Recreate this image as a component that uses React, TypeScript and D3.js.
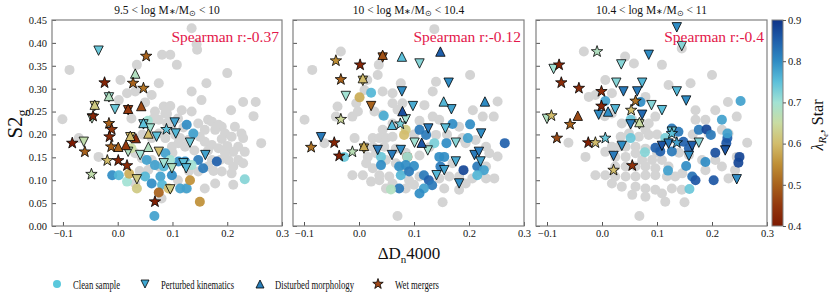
import React, { useEffect, useRef } from "react";
import * as d3 from "d3";

type P = [number, number];
type L = [number, number, number]; // x, y, lambda_Re

const titles = [
  ["9.5 < log M", "∗", "/M", "⊙", " < 10"],
  ["10 < log M", "∗", "/M", "⊙", " < 10.4"],
  ["10.4 < log M", "∗", "/M", "⊙", " < 11"],
];
const spearman = ["Spearman r:-0.37", "Spearman r:-0.12", "Spearman r:-0.4"];
const xTicks = [-0.1, 0, 0.1, 0.2, 0.3];
const yTicks = [0, 0.05, 0.1, 0.15, 0.2, 0.25, 0.3, 0.35, 0.4, 0.45];
const cbTicks = [0.4, 0.5, 0.6, 0.7, 0.8, 0.9];
const cmapStops = [0.4, 0.45, 0.5, 0.55, 0.6, 0.65, 0.7, 0.75, 0.8, 0.85, 0.9];
const cmapColors = [
  "#7e1a02", "#93380e", "#a8621c", "#bf8f36", "#d2bd6c", "#c9dca2",
  "#a2e2d4", "#5cc0da", "#2f8cc4", "#1f5fab", "#0f3488",
];
const legendLabels = ["Clean sample", "Perturbed kinematics", "Disturbed morphology", "Wet mergers"];

// panel 1 : 9.5 < logM < 10
const grayP1: P[] = [
  [0.135, 0.432], [0.145, 0.385], [0.144, 0.397], [0.081, 0.374], [0.096, 0.374], [0.108, 0.352],
  [-0.088, 0.341], [0.035, 0.352], [0.2, 0.334], [0.005, 0.319], [0.075, 0.312], [0.162, 0.312],
  [0.017, 0.29], [0.032, 0.294], [0.135, 0.294], [0.062, 0.286], [0.153, 0.275], [0.229, 0.271],
  [0.252, 0.271], [0.002, 0.275], [0.084, 0.261], [0.096, 0.262], [0.068, 0.25], [0.087, 0.246],
  [0.117, 0.253], [0.207, 0.253], [-0.101, 0.233], [0.065, 0.235], [0.075, 0.232], [0.248, 0.24],
  [0.165, 0.232], [0.172, 0.228], [0.147, 0.224], [0.184, 0.221], [0.19, 0.217], [0.214, 0.217],
  [0.196, 0.202], [0.208, 0.195], [0.226, 0.202], [0.229, 0.192], [-0.071, 0.192], [0.262, 0.181],
  [0.111, 0.181], [0.099, 0.173], [0.123, 0.173], [0.159, 0.184], [0.172, 0.177], [0.184, 0.17],
  [0.22, 0.173], [0.211, 0.162], [0.232, 0.162], [0.196, 0.159], [0.187, 0.144], [0.202, 0.144],
  [0.22, 0.144], [0.229, 0.137], [0.211, 0.13], [-0.035, 0.151], [0.032, 0.159], [0.044, 0.148],
  [0.172, 0.144], [0.165, 0.13], [0.19, 0.119], [0.208, 0.115], [0.178, 0.093], [0.211, 0.09],
  [0.159, 0.082], [0.123, 0.082], [0.062, 0.144], [0.075, 0.13], [0.056, 0.123], [0.032, 0.093],
  [0.147, 0.119], [0.099, 0.21], [0.105, 0.199], [0.087, 0.192], [0.075, 0.202], [0.062, 0.192],
  [0.114, 0.192], [0.129, 0.188], [0.159, 0.21], [0.178, 0.21], [0.09, 0.225], [0.11, 0.235],
  [0.14, 0.2], [0.1, 0.16], [0.14, 0.165], [0.05, 0.27], [0.025, 0.235], [0.08, 0.06],
  [0.12, 0.215], [0.135, 0.25], [0.15, 0.195], [0.165, 0.165], [0.19, 0.19], [0.2, 0.175],
  [0.175, 0.12], [0.13, 0.12], [0.11, 0.1], [0.09, 0.245], [0.045, 0.2], [0.04, 0.12],
];
const cleanP1: L[] = [
  [0.126, 0.221, 0.8], [0.138, 0.202, 0.78], [0.055, 0.23, 0.7], [0.087, 0.159, 0.78],
  [0.053, 0.144, 0.78], [0.068, 0.133, 0.78], [0.084, 0.13, 0.76], [0.111, 0.141, 0.8],
  [0.123, 0.141, 0.8], [0.147, 0.144, 0.82], [0.181, 0.141, 0.85], [0.156, 0.126, 0.82],
  [0.096, 0.144, 0.7], [0.135, 0.133, 0.7], [-0.01, 0.111, 0.8], [0.002, 0.111, 0.76],
  [0.017, 0.097, 0.7], [0.021, 0.114, 0.58], [0.035, 0.082, 0.62], [0.05, 0.108, 0.76],
  [0.062, 0.093, 0.8], [0.078, 0.108, 0.78], [0.081, 0.09, 0.76], [0.093, 0.082, 0.6],
  [0.099, 0.111, 0.8], [0.114, 0.082, 0.78], [0.126, 0.082, 0.78], [0.132, 0.1, 0.55],
  [0.075, 0.073, 0.5], [0.15, 0.053, 0.55], [0.067, 0.022, 0.78], [0.232, 0.102, 0.72],
  [0.025, 0.17, 0.65],
];
const kinP1: L[] = [
  [-0.035, 0.383, 0.74], [-0.016, 0.281, 0.7], [-0.042, 0.262, 0.62], [-0.005, 0.255, 0.74],
  [0.019, 0.253, 0.45], [-0.047, 0.235, 0.68], [0.047, 0.222, 0.74], [0.059, 0.213, 0.7],
  [0.071, 0.195, 0.75], [0.104, 0.226, 0.78], [0.106, 0.202, 0.76], [0.132, 0.182, 0.74],
  [-0.062, 0.184, 0.66], [0.023, 0.194, 0.6], [0.019, 0.162, 0.68], [0.041, 0.155, 0.7],
  [0.075, 0.162, 0.6], [0.084, 0.137, 0.7], [0.099, 0.126, 0.68], [0.12, 0.137, 0.75],
  [0.125, 0.126, 0.76], [0.16, 0.155, 0.78], [0.035, 0.102, 0.62], [0.096, 0.08, 0.62],
];
const morphP1: L[] = [
  [0.032, 0.333, 0.68], [0.043, 0.262, 0.47], [0.019, 0.256, 0.45], [-0.016, 0.284, 0.68],
  [-0.042, 0.265, 0.62], [0.033, 0.192, 0.43], [0.015, 0.177, 0.45], [0.001, 0.173, 0.5],
  [0.056, 0.202, 0.6], [0.056, 0.173, 0.68], [0.047, 0.225, 0.75], [0.023, 0.197, 0.6],
];
const wetP1: L[] = [
  [0.052, 0.371, 0.5], [-0.024, 0.313, 0.42], [0.028, 0.312, 0.5], [0.047, 0.301, 0.52],
  [-0.045, 0.24, 0.42], [-0.016, 0.224, 0.5], [-0.011, 0.211, 0.45], [-0.015, 0.195, 0.43],
  [-0.012, 0.173, 0.5], [-0.083, 0.181, 0.4], [-0.06, 0.162, 0.5], [-0.019, 0.143, 0.6],
  [0.001, 0.143, 0.42], [0.017, 0.132, 0.43], [-0.048, 0.113, 0.66], [0.068, 0.053, 0.41],
  [0.089, 0.211, 0.75],
];

// panel 2 : 10 < logM < 10.4
const grayP2: P[] = [
  [0.137, 0.43], [-0.085, 0.341], [-0.033, 0.381], [0.036, 0.352], [0.034, 0.33], [0.015, 0.319],
  [0.01, 0.297], [0.076, 0.312], [0.14, 0.315], [0.134, 0.294], [0.202, 0.33], [0.043, 0.294],
  [0.061, 0.29], [-0.039, 0.261], [-0.005, 0.268], [-0.002, 0.25], [0.079, 0.268], [0.119, 0.264],
  [0.207, 0.253], [0.225, 0.239], [0.252, 0.272], [0.245, 0.239], [-0.099, 0.232], [-0.042, 0.239],
  [-0.012, 0.239], [0.028, 0.25], [0.043, 0.243], [0.061, 0.268], [0.07, 0.254], [0.043, 0.21],
  [0.061, 0.224], [-0.063, 0.181], [-0.008, 0.192], [0.025, 0.192], [0.037, 0.192], [0.049, 0.192],
  [0.061, 0.195], [0.013, 0.173], [0.025, 0.173], [0.046, 0.173], [0.067, 0.169], [0.134, 0.239],
  [0.146, 0.232], [0.182, 0.217], [0.188, 0.192], [0.212, 0.188], [0.231, 0.173], [0.237, 0.159],
  [0.252, 0.152], [0.194, 0.181], [0.14, 0.199], [0.128, 0.172], [0.11, 0.154], [0.016, 0.151],
  [0.031, 0.159], [0.049, 0.144], [0.067, 0.137], [0.079, 0.122], [0.013, 0.137], [0.025, 0.126],
  [0.037, 0.111], [0.055, 0.108], [0.061, 0.093], [0.091, 0.1], [0.11, 0.108], [-0.012, 0.111],
  [0.007, 0.111], [0.022, 0.097], [0.037, 0.1], [0.049, 0.082], [0.085, 0.082], [0.17, 0.137],
  [0.164, 0.108], [0.182, 0.108], [0.206, 0.104], [0.231, 0.104], [0.246, 0.104], [0.146, 0.104],
  [0.155, 0.082], [0.182, 0.079], [0.194, 0.093], [0.152, 0.052], [0.07, 0.022], [0.231, 0.13],
  [0.219, 0.119], [0.1, 0.2], [0.16, 0.2], [0.11, 0.23], [0.085, 0.16], [0.1, 0.09],
];
const cleanP2: L[] = [
  [0.022, 0.291, 0.76], [0.001, 0.281, 0.58], [0.045, 0.241, 0.77], [0.085, 0.21, 0.62],
  [0.082, 0.199, 0.6], [0.11, 0.21, 0.82], [0.122, 0.199, 0.82], [0.17, 0.223, 0.8],
  [0.202, 0.222, 0.8], [0.198, 0.192, 0.78], [0.265, 0.181, 0.85], [0.137, 0.181, 0.73],
  [0.159, 0.181, 0.8], [0.088, 0.151, 0.45], [0.088, 0.151, 0.7], [0.04, 0.151, 0.74],
  [-0.027, 0.151, 0.74], [0.04, 0.133, 0.8], [0.073, 0.13, 0.8], [0.085, 0.133, 0.8],
  [0.1, 0.131, 0.8], [0.146, 0.151, 0.8], [0.155, 0.151, 0.8], [0.148, 0.13, 0.82],
  [0.19, 0.122, 0.88], [0.215, 0.13, 0.82], [0.227, 0.122, 0.78], [0.215, 0.111, 0.76],
  [0.076, 0.111, 0.76], [0.091, 0.119, 0.82], [0.118, 0.111, 0.82], [0.127, 0.1, 0.85],
  [0.133, 0.089, 0.82], [0.118, 0.082, 0.78], [0.11, 0.071, 0.8], [0.073, 0.082, 0.82],
  [0.058, 0.08, 0.68],
];
const kinP2: L[] = [
  [0.11, 0.355, 0.72], [0.163, 0.313, 0.8], [-0.024, 0.284, 0.7], [0.022, 0.262, 0.5],
  [0.078, 0.294, 0.8], [0.098, 0.262, 0.77], [0.168, 0.255, 0.78], [0.085, 0.233, 0.7],
  [0.126, 0.213, 0.82], [0.157, 0.213, 0.75], [0.222, 0.202, 0.8], [-0.069, 0.194, 0.82],
  [0.101, 0.182, 0.7], [0.176, 0.182, 0.72], [0.034, 0.166, 0.82], [0.06, 0.155, 0.82],
  [0.076, 0.166, 0.8], [0.125, 0.165, 0.7], [0.176, 0.141, 0.77], [0.21, 0.155, 0.82],
  [0.218, 0.162, 0.82], [0.221, 0.141, 0.78], [0.155, 0.122, 0.78], [0.141, 0.111, 0.76],
  [0.182, 0.093, 0.8], [0.009, 0.169, 0.58], [0.043, 0.368, 0.48], [0.007, 0.317, 0.6],
];
const morphP2: L[] = [
  [0.043, 0.374, 0.48], [0.078, 0.37, 0.75], [0.148, 0.381, 0.85], [0.007, 0.323, 0.6],
  [0.154, 0.272, 0.76], [0.229, 0.272, 0.8], [0.079, 0.251, 0.87], [0.06, 0.221, 0.76],
  [0.114, 0.182, 0.86], [0.009, 0.175, 0.58],
];
const wetP2: L[] = [
  [-0.042, 0.361, 0.55], [0.002, 0.352, 0.42], [-0.033, 0.32, 0.5], [-0.033, 0.233, 0.64],
  [0.075, 0.223, 0.73], [-0.087, 0.172, 0.52], [-0.045, 0.182, 0.42], [-0.036, 0.153, 0.41],
  [-0.012, 0.162, 0.67],
];

// panel 3 : 10.4 < logM < 11
const grayP3: P[] = [
  [-0.033, 0.381], [0.145, 0.388], [0.042, 0.37], [0.058, 0.355], [0.109, 0.352], [0.2, 0.33],
  [0.006, 0.319], [0.018, 0.29], [0.121, 0.308], [0.161, 0.312], [-0.024, 0.282], [-0.012, 0.286],
  [0.079, 0.282], [0.229, 0.271], [0.17, 0.253], [0.206, 0.253], [0.245, 0.239], [-0.061, 0.182],
  [-0.03, 0.151], [0.018, 0.246], [0.036, 0.224], [0.055, 0.232], [0.097, 0.239], [0.085, 0.224],
  [0.079, 0.21], [0.034, 0.195], [0.049, 0.202], [0.067, 0.195], [0.085, 0.199], [0.018, 0.173],
  [0.031, 0.173], [0.043, 0.173], [0.061, 0.173], [0.079, 0.169], [0.006, 0.162], [0.024, 0.151],
  [0.043, 0.151], [0.061, 0.159], [0.073, 0.144], [0.091, 0.144], [0.109, 0.144], [0.024, 0.13],
  [0.043, 0.13], [0.061, 0.13], [0.079, 0.13], [0.097, 0.126], [0.121, 0.13], [-0.012, 0.111],
  [0.006, 0.111], [0.024, 0.108], [0.043, 0.108], [0.061, 0.108], [0.079, 0.111], [0.097, 0.111],
  [0.118, 0.108], [0.133, 0.108], [0.018, 0.093], [0.036, 0.086], [0.061, 0.086], [0.079, 0.082],
  [0.097, 0.079], [0.109, 0.071], [0.127, 0.082], [0.145, 0.079], [0.055, 0.068], [0.079, 0.064],
  [0.115, 0.053], [0.15, 0.052], [0.068, 0.022], [0.17, 0.232], [0.188, 0.232], [0.194, 0.202],
  [0.218, 0.21], [0.23, 0.202], [0.264, 0.182], [0.245, 0.151], [0.158, 0.155], [0.182, 0.144],
  [0.206, 0.144], [0.218, 0.13], [0.23, 0.104], [0.242, 0.122], [0.188, 0.122], [0.146, 0.115],
  [0.1, 0.2], [0.12, 0.185], [0.14, 0.16], [0.1, 0.16], [0.005, 0.24], [0.165, 0.2],
];
const cleanP3: L[] = [
  [0.006, 0.273, 0.78], [0.252, 0.273, 0.78], [0.07, 0.271, 0.8], [0.218, 0.232, 0.78],
  [0.052, 0.232, 0.74], [0.127, 0.213, 0.82], [0.139, 0.206, 0.82], [0.176, 0.21, 0.82],
  [0.19, 0.211, 0.88], [0.198, 0.199, 0.82], [0.228, 0.192, 0.85], [0.228, 0.202, 0.78],
  [0.226, 0.181, 0.86], [0.052, 0.192, 0.74], [0.115, 0.192, 0.73], [0.097, 0.171, 0.85],
  [0.106, 0.163, 0.85], [0.127, 0.163, 0.82], [0.148, 0.184, 0.85], [0.158, 0.17, 0.85],
  [0.206, 0.16, 0.87], [0.25, 0.151, 0.88], [0.248, 0.138, 0.88], [0.078, 0.161, 0.72],
  [0.153, 0.131, 0.8], [0.188, 0.14, 0.8], [0.12, 0.121, 0.78], [0.164, 0.108, 0.83],
  [0.17, 0.1, 0.86], [0.203, 0.1, 0.86], [0.159, 0.081, 0.74],
];
const kinP3: L[] = [
  [0.136, 0.434, 0.8], [0.145, 0.393, 0.72], [0.085, 0.374, 0.8], [0.035, 0.353, 0.72],
  [-0.088, 0.343, 0.7], [0.026, 0.313, 0.72], [0.073, 0.313, 0.76], [0.039, 0.294, 0.82],
  [0.064, 0.294, 0.82], [0.136, 0.294, 0.76], [0.153, 0.274, 0.8], [0.09, 0.264, 0.72],
  [0.109, 0.253, 0.75], [0.024, 0.255, 0.76], [0.073, 0.243, 0.84], [-0.006, 0.243, 0.8],
  [-0.1, 0.234, 0.68], [0.052, 0.222, 0.82], [0.127, 0.206, 0.74], [0.109, 0.175, 0.86],
  [0.121, 0.18, 0.82], [0.164, 0.175, 0.85], [0.176, 0.182, 0.72], [0.158, 0.153, 0.8],
  [0.036, 0.175, 0.8], [0.021, 0.153, 0.82], [0.224, 0.165, 0.86], [0.245, 0.102, 0.8],
  [0.068, 0.222, 0.65],
];
const morphP3: L[] = [
  [0.011, 0.25, 0.8], [-0.044, 0.241, 0.47], [0.068, 0.227, 0.65],
];
const wetP3: L[] = [
  [-0.009, 0.381, 0.68], [-0.078, 0.352, 0.42], [-0.074, 0.313, 0.43], [-0.042, 0.301, 0.43],
  [-0.001, 0.294, 0.43], [-0.001, 0.262, 0.42], [0.061, 0.273, 0.52], [0.053, 0.253, 0.6],
  [-0.092, 0.241, 0.6], [-0.058, 0.222, 0.5], [-0.082, 0.192, 0.47], [-0.025, 0.182, 0.41],
  [-0.012, 0.182, 0.6], [0.006, 0.192, 0.74], [0.021, 0.122, 0.6], [0.055, 0.132, 0.44],
  [0.127, 0.202, 0.75], [0.136, 0.182, 0.78],
];

const panelData = [
  { gray: grayP1, clean: cleanP1, kin: kinP1, morph: morphP1, wet: wetP1 },
  { gray: grayP2, clean: cleanP2, kin: kinP2, morph: morphP2, wet: wetP2 },
  { gray: grayP3, clean: cleanP3, kin: kinP3, morph: morphP3, wet: wetP3 },
];

const W = 831;
const H = 303;
const FONT = "Liberation Serif, Times New Roman, Times, serif";

const triPath = (h: number, down: boolean) => {
  const s = down ? 1 : -1;
  return `M0,${s * h}L${-h},${-s * h}L${h},${-s * h}Z`;
};
const starPath = (R: number) => {
  const r = R * 0.4;
  const pts = d3.range(10).map((i) => {
    const a = (i * Math.PI) / 5 - Math.PI / 2;
    const rr = i % 2 === 0 ? R : r;
    return [rr * Math.cos(a), rr * Math.sin(a)];
  });
  return "M" + pts.map((p) => p.join(",")).join("L") + "Z";
};

const drawChart = (el: SVGSVGElement) => {
  const svg = d3.select(el);
  svg.selectAll("*").remove();

  const color = d3
    .scaleLinear<string>()
    .domain(cmapStops)
    .range(cmapColors)
    .interpolate(d3.interpolateRgb)
    .clamp(true);

  const panelX = [
    [52, 282],
    [293, 524],
    [536, 767],
  ];
  const top = 20;
  const bottom = 226;
  const y = d3.scaleLinear().domain([0, 0.45]).range([bottom, top]);

  panelData.forEach((d, i) => {
    const [x0, x1] = panelX[i];
    const x = d3.scaleLinear().domain([-0.12, 0.3]).range([x0, x1]);
    const g = svg.append("g");
    const plot = g.append("g");

    plot
      .selectAll("circle.gray")
      .data(d.gray)
      .join("circle")
      .attr("cx", (p) => x(p[0]))
      .attr("cy", (p) => y(p[1]))
      .attr("r", 5)
      .attr("fill", "#d4d4d4");

    plot
      .selectAll("circle.clean")
      .data(d.clean)
      .join("circle")
      .attr("cx", (p) => x(p[0]))
      .attr("cy", (p) => y(p[1]))
      .attr("r", 5)
      .attr("fill", (p) => color(p[2]))
      .attr("fill-opacity", 0.92);

    const marker = (data: L[], path: string) =>
      plot
        .append("g")
        .selectAll("path")
        .data(data)
        .join("path")
        .attr("d", path)
        .attr("transform", (p) => `translate(${x(p[0])},${y(p[1])})`)
        .attr("fill", (p) => color(p[2]))
        .attr("stroke", "#000")
        .attr("stroke-width", 0.8);

    marker(d.kin, triPath(4.7, true));
    marker(d.morph, triPath(4.7, false));
    marker(d.wet, starPath(6));

    // axes, ticks inward
    const xAxis = d3
      .axisBottom(x)
      .tickValues(xTicks)
      .tickSize(-4)
      .tickPadding(4)
      .tickFormat(d3.format(".1f"));
    const yAxis = d3
      .axisLeft(y)
      .tickValues(yTicks)
      .tickSize(-4)
      .tickPadding(5)
      .tickFormat(i === 0 ? d3.format(".2f") : () => "");
    [
      g.append("g").attr("transform", `translate(0,${bottom})`).call(xAxis),
      g.append("g").attr("transform", `translate(${x0},0)`).call(yAxis),
    ].forEach((a) => {
      a.select(".domain").remove();
      a.selectAll("line").attr("stroke", "#555");
      a.selectAll("text")
        .attr("font-family", FONT)
        .attr("font-size", 10.5)
        .attr("fill", "#111");
    });

    g.append("rect")
      .attr("x", x0)
      .attr("y", top)
      .attr("width", x1 - x0)
      .attr("height", bottom - top)
      .attr("fill", "none")
      .attr("stroke", "#808080")
      .attr("stroke-width", 1.2);

    const t = g
      .append("text")
      .attr("x", (x0 + x1) / 2)
      .attr("y", 14)
      .attr("text-anchor", "middle")
      .attr("font-family", FONT)
      .attr("font-size", 11.5)
      .attr("fill", "#111");
    titles[i].forEach((s, k) => {
      const ts = t.append("tspan").text(s);
      if (k === 1) ts.attr("font-size", 8);
      if (k === 3) ts.attr("font-size", 8).attr("dy", 2);
      if (k === 4) ts.attr("dy", -2);
    });

    g.append("text")
      .attr("x", x1 - 3)
      .attr("y", 42)
      .attr("text-anchor", "end")
      .attr("font-family", FONT)
      .attr("font-size", 15.5)
      .attr("fill", "#e3174a")
      .text(spearman[i]);
  });

  // y label
  const yl = svg
    .append("text")
    .attr("transform", `translate(22,124) rotate(-90)`)
    .attr("text-anchor", "middle")
    .attr("font-family", FONT)
    .attr("font-size", 21)
    .attr("fill", "#111");
  yl.append("tspan").text("S2");
  yl.append("tspan").attr("font-size", 14).attr("dy", 5).text("g");

  // x label
  const xl = svg
    .append("text")
    .attr("x", 409)
    .attr("y", 259)
    .attr("text-anchor", "middle")
    .attr("font-family", FONT)
    .attr("font-size", 17)
    .attr("fill", "#111");
  xl.append("tspan").text("ΔD");
  xl.append("tspan").attr("font-size", 11).attr("dy", 4).text("n");
  xl.append("tspan").attr("dy", -4).text("4000");

  // colorbar
  const cb = { x: 772, w: 11, top: 20, bottom: 226 };
  const cy = d3.scaleLinear().domain([0.4, 0.9]).range([cb.bottom, cb.top]);
  const grad = svg
    .append("defs")
    .append("linearGradient")
    .attr("id", "cbgrad")
    .attr("x1", 0)
    .attr("y1", 1)
    .attr("x2", 0)
    .attr("y2", 0);
  cmapStops.forEach((s, k) => {
    grad
      .append("stop")
      .attr("offset", (s - 0.4) / 0.5)
      .attr("stop-color", cmapColors[k]);
  });
  svg
    .append("rect")
    .attr("x", cb.x)
    .attr("y", cb.top)
    .attr("width", cb.w)
    .attr("height", cb.bottom - cb.top)
    .attr("fill", "url(#cbgrad)")
    .attr("stroke", "#808080")
    .attr("stroke-width", 1);
  const cbAxis = svg
    .append("g")
    .attr("transform", `translate(${cb.x + cb.w},0)`)
    .call(d3.axisRight(cy).tickValues(cbTicks).tickSize(3).tickPadding(2).tickFormat(d3.format(".1f")));
  cbAxis.select(".domain").remove();
  cbAxis.selectAll("line").attr("stroke", "#555");
  cbAxis.selectAll("text").attr("font-family", FONT).attr("font-size", 10.5).attr("fill", "#111");

  const cl = svg
    .append("text")
    .attr("transform", `translate(823,125) rotate(-90)`)
    .attr("text-anchor", "middle")
    .attr("font-family", FONT)
    .attr("font-size", 16)
    .attr("fill", "#111");
  cl.append("tspan").attr("font-style", "italic").text("λ");
  cl.append("tspan").attr("font-style", "italic").attr("font-size", 11).attr("dy", 3).text("R");
  cl.append("tspan").attr("font-style", "italic").attr("font-size", 8).attr("dy", 2).text("e");
  cl.append("tspan").attr("dy", -5).text(", Star");

  // legend
  const legend = svg.append("g").attr("font-family", FONT).attr("font-size", 12.5);
  const items = [
    { x: 57, tx: 73, len: 47, path: d3.symbol(d3.symbolCircle, 50)(), fill: "#5ac8dc", stroke: "none" },
    { x: 145, tx: 161, len: 73, path: triPath(4, true), fill: "#3fa8d2", stroke: "#000" },
    { x: 260, tx: 275, len: 79, path: triPath(4, false), fill: "#2a7fba", stroke: "#000" },
    { x: 378, tx: 395, len: 44, path: starPath(5.5), fill: "#a04818", stroke: "#000" },
  ];
  items.forEach((it, k) => {
    legend
      .append("path")
      .attr("d", it.path as string)
      .attr("transform", `translate(${it.x},284)`)
      .attr("fill", it.fill)
      .attr("stroke", it.stroke)
      .attr("stroke-width", 0.8);
    legend
      .append("text")
      .attr("x", it.tx)
      .attr("y", 288.5)
      .attr("fill", "#111")
      .attr("textLength", it.len)
      .attr("lengthAdjust", "spacingAndGlyphs")
      .text(legendLabels[k]);
  });
};

export default function App() {
  const ref = useRef<SVGSVGElement>(null);
  useEffect(() => {
    if (ref.current) drawChart(ref.current);
  }, []);
  return (
    <svg
      ref={ref}
      width={W}
      height={H}
      style={{ position: "absolute", left: 0, top: 0, background: "#fff" }}
    />
  );
}
